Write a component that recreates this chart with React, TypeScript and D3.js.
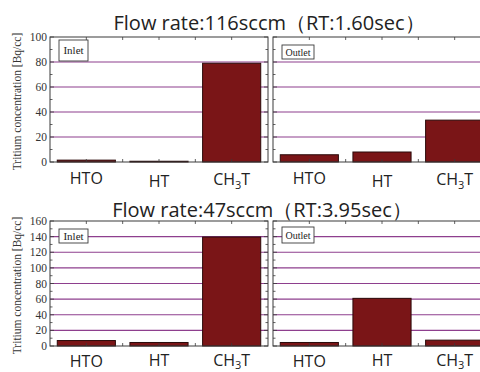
import React from 'react';
import * as d3 from 'd3';

const categories = ['HTO', 'HT', 'CH3T'];

// 116 sccm (RT 1.60 s)
const inlet116 = [1.5, 0.6, 79];
const outlet116 = [5.8, 8, 33.5];
const ticks116 = [0, 20, 40, 60, 80, 100];

// 47 sccm (RT 3.95 s)
const inlet47 = [7, 4.5, 139.5];
const outlet47 = [4.5, 61, 7.5];
const ticks47 = [0, 20, 40, 60, 80, 100, 120, 140, 160];

const W = 480;
const H = 372;
const BAR = '#7a1517';
const GRID = '#8e3f8e';
const FRAME = '#3a3a3a';
const SANS = '"Open Sans", "Noto Sans", sans-serif';
const SERIF = '"Liberation Serif", "DejaVu Serif", serif';

interface PanelProps {
  x0: number;
  x1: number;
  y0: number;
  y1: number;
  max: number;
  ticks: number[];
  values: number[];
  label: string;
  box: [number, number]; // top offset, height
  labelDy: number[];
  showAxis: boolean;
}

function Panel({ x0, x1, y0, y1, max, ticks, values, label, box, labelDy, showAxis }: PanelProps) {
  const x = d3.scaleBand<string>().domain(categories).range([x0, x1]).paddingInner(0.2).paddingOuter(0.1);
  const y = d3.scaleLinear().domain([0, max]).range([y1, y0]);
  const band = (x1 - x0) / categories.length;
  const minor = d3.range(0, max + 1, 10);
  const topTicks = d3.range(1, categories.length * 2).map((i) => x0 + (band / 2) * i);
  const inlet = label === 'Inlet';
  const boxW = inlet ? 29 : 32;

  return (
    <g>
      {/* grid */}
      {ticks.filter((t) => t > 0 && t < max).map((t) => (
        <line key={'g' + t} x1={x0} x2={x1} y1={y(t)} y2={y(t)} stroke={GRID} strokeWidth={1.1} />
      ))}
      {/* bars */}
      {values.map((v, i) => (
        <rect
          key={'b' + i}
          x={x(categories[i])!}
          y={y(v)}
          width={x.bandwidth()}
          height={y(0) - y(v)}
          fill={BAR}
          stroke="#2b0a0a"
          strokeWidth={1}
        />
      ))}
      {/* frame */}
      <rect x={x0} y={y0} width={x1 - x0} height={y1 - y0} fill="none" stroke={FRAME} strokeWidth={1} />
      {/* inward ticks */}
      {minor.map((t) => (
        <g key={'m' + t}>
          <line x1={x0} x2={x0 + (t % 20 === 0 ? 4 : 2.5)} y1={y(t)} y2={y(t)} stroke={FRAME} strokeWidth={0.8} />
          <line x1={x1} x2={x1 - (t % 20 === 0 ? 4 : 2.5)} y1={y(t)} y2={y(t)} stroke={FRAME} strokeWidth={0.8} />
        </g>
      ))}
      {topTicks.map((tx, i) => (
        <g key={'t' + i}>
          <line x1={tx} x2={tx} y1={y0} y2={y0 + 3} stroke={FRAME} strokeWidth={0.8} />
          <line x1={tx} x2={tx} y1={y1} y2={y1 - 3} stroke={FRAME} strokeWidth={0.8} />
        </g>
      ))}
      {showAxis &&
        ticks.map((t) => (
          <text
            key={'l' + t}
            x={x0 - 3}
            y={y(t)}
            dy="0.35em"
            textAnchor="end"
            fontFamily={SERIF}
            fontSize={11.5}
            fill="#333"
          >
            {t}
          </text>
        ))}
      {/* legend box */}
      <rect x={x0 + 9} y={y0 + box[0]} width={boxW} height={box[1]} fill="#fff" stroke={FRAME} strokeWidth={0.9} />
      <text
        x={x0 + 9 + boxW / 2}
        y={y0 + box[0] + box[1] / 2}
        dy="0.35em"
        textAnchor="middle"
        fontFamily={SERIF}
        fontSize={inlet ? 11 : 10}
        fill="#222"
      >
        {label}
      </text>
      {/* category labels */}
      {categories.map((c, i) => {
        const cx = x(c)! + x.bandwidth() / 2;
        return (
          <text key={'c' + c} x={cx} y={y1 + labelDy[i]} textAnchor="middle" fontFamily={SANS} fontSize={16} fill="#222">
            {c === 'CH3T' ? (
              <>
                CH<tspan fontSize={11} dy={3.5}>3</tspan>
                <tspan dy={-3.5}>T</tspan>
              </>
            ) : (
              c
            )}
          </text>
        );
      })}
    </g>
  );
}

export default function App() {
  const left = [50, 268];
  const right = [273, 491];
  const top = [37, 162];
  const bottom = [221, 346];

  return (
    <svg width={W} height={H} style={{ position: 'absolute', left: 0, top: 0, background: '#fff' }}>
      <rect width={W} height={H} fill="#fff" />
      <text x={269} y={30} textAnchor="middle" fontFamily={SANS} fontSize={20} fill="#222">
        Flow rate:116sccm（RT:1.60sec）
      </text>
      <text x={262} y={217} textAnchor="middle" fontFamily={SANS} fontSize={20} fill="#222">
        Flow rate:47sccm（RT:3.95sec）
      </text>

      <Panel x0={left[0]} x1={left[1]} y0={top[0]} y1={top[1]} max={100} ticks={ticks116} values={inlet116} label="Inlet" box={[3, 21]} labelDy={[22, 25, 23]} showAxis />
      <Panel x0={right[0]} x1={right[1]} y0={top[0]} y1={top[1]} max={100} ticks={ticks116} values={outlet116} label="Outlet" box={[8, 14]} labelDy={[22, 25, 23]} showAxis={false} />
      <Panel x0={left[0]} x1={left[1]} y0={bottom[0]} y1={bottom[1]} max={160} ticks={ticks47} values={inlet47} label="Inlet" box={[8, 14]} labelDy={[20.5, 19.5, 19.5]} showAxis />
      <Panel x0={right[0]} x1={right[1]} y0={bottom[0]} y1={bottom[1]} max={160} ticks={ticks47} values={outlet47} label="Outlet" box={[6, 16]} labelDy={[20.5, 19.5, 19.5]} showAxis={false} />

      <text transform={`translate(21,${(top[0] + top[1]) / 2 + 2}) rotate(-90)`} textAnchor="middle" fontFamily={SERIF} fontSize={11.5} fill="#333">
        Tritium concentration [Bq/cc]
      </text>
      <text transform={`translate(21,${(bottom[0] + bottom[1]) / 2 + 2}) rotate(-90)`} textAnchor="middle" fontFamily={SERIF} fontSize={11.5} fill="#333">
        Tritium concentration [Bq/cc]
      </text>
    </svg>
  );
}
